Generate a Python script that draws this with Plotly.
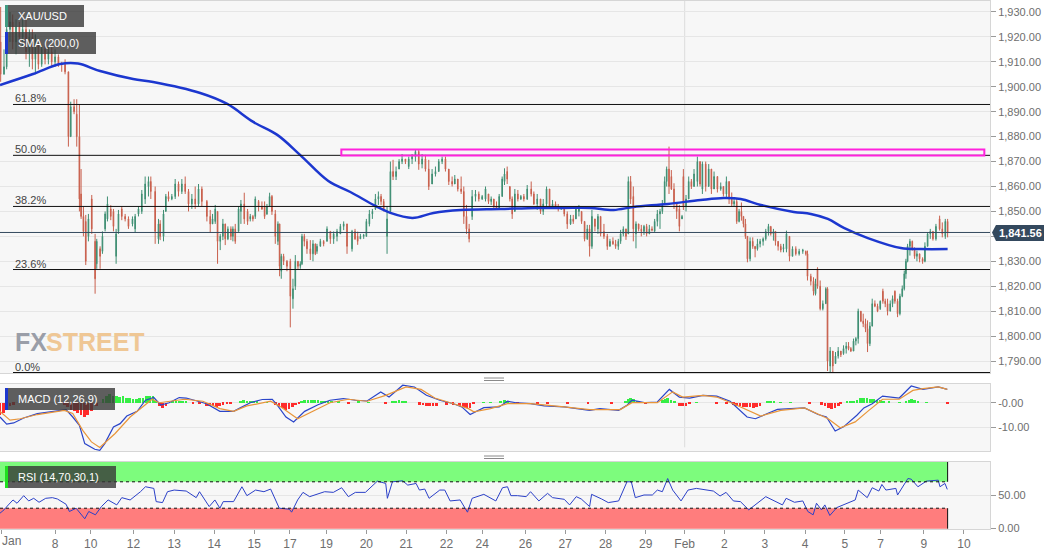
import plotly.graph_objects as go
from plotly.subplots import make_subplots

# session clock: 119 units per trading day, bars are not perfectly regular as read
bar_t = [2,12,20,30,38,48,58,68,78,88, 97,106,115,125,135,145,155,165,175,185,
    195,205,212,222,230,238,243,250,257,265, 275,285,290,300,307,315,322,332,340,348,
    355,365,375,385,397,405,415,425,435,445, 452,465,475,480,490,497,505,515,525,535,
    545,555,565,575,585,595,605,620,630,637, 645,652,660,668,675,683,692,698,705,715,
    722,732,742,750,758,765,775,785,793,800, 808,815,825,833,838,843,850,860,870,878,
    885,893,900,905,912,920,930,938,945,950, 960,970,980,990,1000,1010,1020,1030,1040,1055,
    1064,1072,1080,1090,1098,1107,1116,1125,1134,1142, 1150,1160,1170,1178,1187,1196,1205,1215,1225,1235,
    1245,1255,1265,1275,1285,1295,1305,1315,1325,1335, 1345,1355,1363,1372,1382,1390,1398,1406,1415,1425,
    1435,1445,1455,1464,1472,1480,1488,1496,1505,1512, 1520,1528,1535,1543,1552,1561,1570,1580,1592,1600,
    1610,1620,1628,1638,1647,1656,1665,1673,1682,1691, 1700,1710,1718,1726,1735,1743,1752,1760,1767,1774,
    1783,1792,1800,1810,1820,1828,1837,1845,1853,1860, 1868,1876,1883,1890,1898,1906,1914,1922,1930,1938,
    1946,1954,1962,1970,1978,1985,1992,1998,2005,2012, 2020,2028,2036,2044,2048,2056,2064,2072,2080,2090,
    2098,2105,2115,2124,2132,2140,2150,2160,2168,2177, 2185,2193,2200,2208,2215,2222,2228,2234,2240,2248,
    2256,2263,2270,2278,2287,2295,2303,2310,2318,2324, 2332,2340,2348,2357,2366,2375,2385,2395,2406,2415,
    2420,2430,2438,2444,2450,2458,2466,2475,2480,2488, 2496,2504,2512,2520,2528,2536,2543,2550,2558,2565,
    2572,2580,2587,2594,2600,2607,2614,2622,2630,2638, 2646,2653,2660,2668,2675,2682,2690,2697,2704,2710,
    2715,2720,2727,2734,2741,2748,2756,2765,2772,2780, 2788,2796,2805,2816,2824,2833,2840]

opens = [1918,1905,1908,1923,1926,1918,1924,1920,1923,1914, 1920,1911,1917,1909,1915,1911,1914,1910,1912,1909,
    1909,1906,1880,1892,1889,1880,1857,1848,1846,1840, 1855,1838,1829,1835,1834,1843,1847,1851,1850,1832,
    1842,1851,1848,1847,1845,1843,1849,1850,1855,1860, 1862,1858,1839,1845,1840,1850,1856,1855,1856,1861,
    1858,1861,1858,1853,1855,1853,1859,1854,1848,1845, 1846,1850,1838,1840,1845,1839,1843,1840,1843,1842,
    1850,1853,1850,1847,1848,1848,1854,1852,1852,1849, 1852,1856,1849,1838,1845,1826,1832,1830,1830,1815,
    1820,1830,1828,1829,1840,1838,1835,1833,1837,1834, 1836,1838,1838,1842,1839,1840,1841,1844,1845,1835,
    1842,1840,1839,1840,1840,1845,1849,1851,1855,1856, 1854,1840,1850,1866,1864,1867,1870,1871,1868,1871,
    1872,1874,1869,1871,1867,1861,1865,1866,1870,1871, 1867,1862,1861,1863,1859,1858,1848,1843,1848,1856,
    1857,1855,1855,1857,1854,1855,1852,1851,1856,1862, 1866,1860,1855,1850,1857,1855,1856,1855,1859,1857,
    1853,1855,1850,1853,1859,1852,1853,1852,1851,1851, 1849,1845,1847,1847,1850,1850,1846,1839,1843,1836,
    1847,1843,1848,1842,1840,1836,1838,1837,1836,1838, 1841,1843,1841,1862,1856,1841,1845,1843,1842,1844,
    1841,1843,1842,1846,1849,1850,1853,1862,1867,1864, 1859,1853,1851,1847,1864,1852,1855,1862,1860,1862,
    1870,1859,1869,1860,1867,1859,1864,1859,1860,1857, 1862,1855,1853,1854,1846,1850,1848,1845,1840,1831,
    1838,1836,1835,1837,1838,1839,1842,1844,1841,1842, 1838,1836,1835,1835,1840,1832,1835,1833,1834,1834,
    1833,1824,1822,1817,1827,1820,1811,1813,1819,1788, 1794,1789,1792,1794,1793,1795,1796,1795,1794,1798,
    1799,1810,1806,1805,1803,1797,1804,1813,1812,1811, 1818,1814,1813,1810,1813,1818,1814,1809,1816,1819,
    1825,1830,1836,1838,1835,1832,1833,1831,1830,1836, 1841,1842,1839,1847,1843,1840,1846]

highs = [1932,1915,1925,1930,1929,1927,1926,1927,1927,1923, 1923,1921,1919,1917,1917,1916,1916,1915,1913,1910,
    1911,1906,1894,1895,1895,1893,1867,1852,1848.6,1849, 1856.6,1841,1839,1836,1842,1850,1856,1852.5,1851,1843,
    1850.6,1852,1849,1848,1848,1849,1852,1858.6,1864,1864, 1864,1860,1847,1846.5,1850.6,1857,1858,1857,1863,1862,
    1863,1864,1859,1857,1860,1861,1860,1854.6,1850.6,1849, 1852.6,1850,1841,1847,1845,1844,1844,1844,1845,1852,
    1854.6,1857.5,1851,1849,1848.6,1856,1854.6,1854,1854,1853, 1857.5,1856.6,1850.6,1846,1845,1833,1833,1830.5,1831,1823,
    1832.5,1830,1830,1841,1841,1839,1838.5,1838.5,1837,1837, 1839,1838.5,1844,1842,1842,1843,1845,1846,1845,1842.6,
    1843,1841.9,1841,1841,1847,1850.6,1851,1857,1858,1857, 1855,1852,1870,1870.7,1868,1871,1873,1871,1872,1873,
    1875,1874.7,1873,1872.7,1870.7,1867,1868,1871,1872,1872, 1867,1864,1864.6,1863,1864,1860,1852.6,1845,1858.6,1858.6,
    1858,1856.6,1860,1857,1856,1855,1854,1857,1864,1867.3, 1868,1860,1856,1859,1858.6,1856.6,1857,1860.6,1862,1858,
    1857,1855,1855,1860,1859,1854.6,1854,1853,1852,1851.7, 1850,1848.6,1848.6,1852,1852.6,1850,1846,1844.6,1844.6,1850.6,
    1847,1849,1848,1845,1841,1839,1839.6,1838.6,1839,1842.6, 1844,1843,1864,1864.2,1860,1846,1845,1844.6,1844.6,1845,
    1844.6,1844,1847,1850.6,1851,1854.6,1864,1868,1876,1866.6, 1861.3,1853,1852.6,1848.6,1867,1856.6,1864,1863,1867,1872,
    1870,1870,1870,1869,1867,1866,1864,1861.6,1860,1864, 1862,1857.6,1855.6,1855,1851,1853.6,1848,1847,1840,1839.6,
    1839.6,1836,1839,1839,1839.6,1843,1845,1844,1843,1842, 1838,1837,1837,1842.3,1840,1836,1836,1835,1835,1834.3,
    1834.3,1825,1823.6,1823,1827.6,1822.3,1814.3,1819.6,1819.6,1795.6, 1794,1793.6,1795.6,1794,1796.3,1797.6,1797.6,1795.6,1799,1799.6,
    1811,1810,1809,1807,1806.3,1805.6,1815,1814.3,1813,1814.3, 1819,1815,1815,1814.3,1816.3,1818.3,1815,1817,1820.3,1826.3,
    1831,1837,1839,1838.3,1835.6,1834.3,1833,1831.6,1837.6,1841.6, 1843,1842,1845,1848.3,1845.6,1847,1847]

lows = [1902,1905,1907,1918,1915,1913,1917,1916,1911,1908, 1907,1905,1907,1908,1909,1909,1908,1908,1908,1906,
    1905,1876,1880,1889,1876,1850,1847,1840,1828.5,1838, 1841,1817,1827,1827,1833,1842,1846,1846.5,1842,1829,
    1841,1846.5,1846,1843,1844,1841.6,1848,1849,1853,1856, 1855,1837,1837,1838.5,1838,1850,1854,1854.5,1855,1856,
    1857,1857,1850,1851,1851,1852,1852,1846,1841.6,1845, 1845,1829,1834.5,1838.5,1836.5,1838.5,1838.5,1838,1837,1842,
    1845,1845,1844.6,1846,1846,1847,1850,1850.6,1847,1848.6, 1852,1848.6,1837,1836.5,1824,1823,1828.5,1826,1803.5,1811,
    1818.5,1826.5,1827,1828.5,1836,1833,1830.5,1830,1832.5,1833, 1836,1836,1838,1837,1837,1838,1841,1842.5,1833,1833.9,
    1838.6,1836.6,1839,1839,1840,1844,1847,1850.6,1852.6,1852.6, 1850,1833,1849,1862.6,1862.6,1867,1869,1869,1867,1869,
    1870,1866.7,1867.3,1866,1858.6,1861,1864,1866,1869,1866, 1860.6,1860,1861,1858,1857,1845,1841,1837.6,1846.6,1854,
    1854,1854.6,1854,1853,1852.6,1851,1850.6,1850.6,1856,1860.6, 1861,1854,1847,1850,1854,1854.6,1854,1854.6,1856,1852.6,
    1850.6,1849,1848.6,1852,1851,1852,1851,1850,1850.6,1848, 1843,1844.6,1845,1847,1848,1845,1838,1838.6,1831.9,1835,
    1842,1841,1840,1839,1834.6,1836,1836.6,1835,1834.6,1837, 1840,1838.6,1841,1853,1838,1835.2,1842,1840,1840.6,1840,
    1841,1842,1842,1844,1843,1849,1853,1860,1857,1858.6, 1851,1847,1842,1847,1850.6,1850,1855,1859,1860,1860,
    1860,1857,1858,1860,1857,1859,1857.6,1858.3,1856,1855.6, 1853,1852,1852,1845,1845.6,1846.3,1843.6,1839,1829.6,1830,
    1835,1831.6,1834.3,1835.6,1836.3,1838.3,1840.3,1840.3,1838.3,1836.3, 1834.3,1833.6,1833.6,1833.6,1830,1832,1832.3,1832.3,1833,1832.3,
    1822.3,1820.3,1816.3,1816.3,1819,1810.3,1810.3,1813,1786,1785.6, 1785.6,1789,1791,1791.6,1792.5,1793,1794.3,1793.6,1794,1796.3,
    1797,1805.6,1803.6,1801.6,1793.6,1796,1804,1811.6,1809.6,1810.5, 1813,1811.6,1808.3,1810,1811.6,1813,1807.6,1808.3,1815.6,1818.3,
    1823,1829.6,1832.3,1834.3,1831,1830,1829.6,1829,1829.6,1836, 1839,1838.3,1838.3,1842.3,1839.6,1839,1839.6]

closes = [1905,1908,1923,1926,1918,1924,1920,1923,1914,1920, 1911,1917,1909,1915,1911,1914,1910,1912,1909,1909,
    1906,1880,1892,1890,1880,1855,1848,1842,1830,1847, 1843,1823,1838,1832,1840,1849,1853,1848,1844,1841,
    1849,1848,1847,1844,1847,1848,1851,1857,1861,1862, 1858,1842,1845,1840,1849,1856,1855,1856,1861,1858,
    1861,1858,1853,1855,1853,1859,1854,1848,1845,1847, 1851,1838,1840,1845,1839,1843,1840,1843,1838,1851,
    1853,1847,1846,1848,1847,1855,1852,1851,1848,1852, 1856,1850,1840,1845,1828,1832,1830,1828,1816,1819,
    1830,1828,1829,1840,1838,1835,1833,1837,1833,1836, 1838,1837,1843,1839,1841,1842,1844,1845,1836,1842,
    1839,1838,1840,1840.5,1846,1849,1850,1855,1856,1854, 1851,1847,1866,1864,1866,1870,1871,1870,1871,1872,
    1874,1869,1871,1867,1860,1865,1866,1870,1871,1867, 1862,1861,1863,1859,1858,1848,1843,1839,1856,1857,
    1855,1856,1859,1854,1855,1852,1851,1856,1863,1865, 1863,1855,1849,1857,1855,1856,1855,1859,1857,1853,
    1855,1850,1853,1859,1852,1853,1852,1851,1851.5,1849, 1845,1847,1846,1851,1851,1846,1839,1843,1836,1848,
    1844,1848,1841,1840,1836,1838,1837,1836,1838,1841, 1843,1840,1862,1855,1843,1845,1843,1842,1844,1841,
    1843,1842.5,1846,1849,1850,1853,1862,1867,1860,1859, 1853,1850,1844,1848,1852,1855,1862,1860,1865,1870,
    1861,1869,1860,1867,1859,1864,1859,1860,1857,1862, 1855,1853,1854,1846,1850,1848,1845,1840,1831,1838,
    1836,1835,1837,1838,1839,1842,1844,1841,1842,1838, 1836,1834.5,1835.5,1841,1832,1835,1833,1834,1834.5,1833,
    1824,1822,1818,1821,1820,1811,1813,1819,1790,1794, 1788,1792,1794,1792.5,1795,1796,1795,1794,1798,1799,
    1810,1806,1805,1803,1797,1804,1813,1812,1810,1814, 1814,1813,1810,1813,1815,1814,1809,1816,1819,1825,
    1830,1836,1838,1835,1832,1833,1831,1830,1836,1841, 1842,1839,1844,1843,1841,1846,1841.56]

sma_t = [0,99,180,234,300,399,459,600,681,759,831,900,984,1050,1125,1170,1236,1299,1380,1500,1611,1689,1770,1839,1899,2001,2100,2169,2220,2280,2379,2430,2481,2529,2601,2700,2760,2840]
sma_v = [1900.7,1905.1,1909.1,1909.3,1906.3,1903.1,1901.9,1897.5,1893.1,1885.9,1880.7,1872.6,1862.2,1857.8,1852.2,1849.4,1847.4,1849.4,1850.6,1851,1851.4,1851.4,1851.4,1850.6,1851.8,1853,1854.6,1855.4,1855,1852.6,1849.8,1849,1847,1843.4,1839.3,1835.3,1834.9,1834.9]

fib_labels = ["61.8%", "50.0%", "38.2%", "23.6%", "0.0%"]
fib_levels = [1892.9, 1872.5, 1852.0, 1826.7, 1785.4]
last_price = 1841.56
zone_low, zone_high = 1872.4, 1874.8
zone_t0, zone_t1 = 1023, 2950

macd_t = [0,20,41,71,112,162,198,218,238,254,269,284,299,314,340,360,380,411,436,461,
    482,507,537,558,588,619,659,700,720,750,786,816,831,857,880,913,953,989,1029,1065,
    1100,1141,1166,1207,1242,1278,1318,1359,1384,1409,1450,1496,1521,1551,1590,
    1631,1691,1767,1798,1854,1879,1894,1935,1970,2006,2036,2067,2107,2148,2188,2239,2264,2300,2330,2411,
    2452,2477,2503,2528,2568,2589,2614,2645,2695,2731,2766,2812,2839]
macd_v = [-5.7,-8.6,-8.1,-6.1,-4.3,-3.4,-2.7,-5.7,-9.1,-16.5,-17.8,-18.8,-19.2,-16.5,-9.7,-8.4,-5.3,-3.4,1.1,2.2,
    -0.9,0.1,2.2,2.0,0.9,-0.3,-3.4,-3.4,-2,0.1,1.4,1.5,-0.9,-5.7,-7.7,-3.4,-0.7,1.1,1.8,1.1,
    0.8,4.5,2.4,7.2,6.5,3.1,1.1,-0.3,-1.6,-4.7,-1.9,-1.6,0.7,0,-0.3,
    -1.2,-1.6,-3,-2.3,-3,-0.9,1.1,0.1,0.4,5.5,2.4,2,3.1,2.8,0.7,-5.7,-6.4,-4.3,-2.6,-2,
    -4.7,-5.7,-11.4,-9.7,-5,-2,-0.3,2.8,2,6.9,5.5,6.5,5.5]

signal_t = [0,30,61,112,193,218,248,274,299,345,390,426,456,477,517,553,608,659,700,740,
    811,842,892,933,989,1044,1100,1156,1217,1262,1303,1359,1404,1420,1470,1521,1590,
    1691,1767,1859,1894,1970,2016,2046,2107,2148,2198,2280,2340,2411,2482,2518,2563,2604,2645,2695,2736,2766,2812,2839]
signal_v = [-3.4,-7,-6.4,-4.7,-3,-4.3,-11.1,-15.8,-18.1,-12.4,-5.7,-1.6,1.5,0.1,0.7,1.5,0.7,-2.3,-3.4,-1.2,
    0.7,-1.6,-6.4,-3.6,0.1,1.5,0.7,3.1,6.5,5.5,2,-0.3,-2.3,-3.6,-2.3,-0.3,-0.3,
    -1.6,-2.7,-2.7,0.1,0.1,4.5,2.4,3.1,2.4,-0.3,-5.3,-3,-2,-6.4,-10.1,-7.7,-3,1.5,1.5,5.1,5.8,6.5,5.5]

hist_t = [0,10,20,30,41,193,203,213,223,233,243,253,263,274,289,
    309,319,329,339,349,359,369,379,389,399,409,419,429,439,449,459,466,
    477,487,497,517,527,537,547,557,578,598,618,628,638,648,658,668,680,690,
    720,730,740,750,760,770,800,826,836,846,856,866,876,886,896,
    903,913,923,933,943,953,963,973,983,993,1014,1044,1075,1105,1156,1176,1186,1196,1206,1216,
    1258,1268,1278,1288,1298,1308,1338,1358,1378,1389,1399,1409,1420,1450,1470,1500,1511,1521,1551,
    1610,1640,1701,1762,1833,1874,1884,1889,1899,1909,1935,1985,1995,2001,2011,2021,2036,2046,2056,2066,2087,
    2148,2178,2198,2208,2218,2228,2238,2248,2258,2268,2278,2300,2310,2320,2340,2370,2427,2462,2472,2482,2492,2502,2512,2518,
    2538,2548,2558,2568,2578,2588,2598,2608,2618,2628,2638,2648,2664,2695,2715,2725,2731,2741,2751,2776,2839]
hist_v = [-4.7,-4,-2,-1.4,-0.7,-0.7,-1.5,-2.7,-3.4,-4,-4.7,-5.7,-4.7,-3.4,-1.4,
    1.6,2.7,3.6,3,2.7,2.4,2.7,2.2,2,1.6,1.6,1.9,2.2,2.7,2.7,2.7,0.7,
    -1.4,-2,-1.4,0.4,0.6,0.8,0.8,0.4,-0.4,-0.3,-1.1,-1.3,-1.4,-1.6,-1.1,-0.7,-0.4,-0.1,
    0.8,1.1,1,0.8,0.6,0.4,0.3,-0.7,-1.5,-2,-2.7,-2.4,-1.6,-0.9,-0.4,
    0.8,1.1,1.1,1.1,1.1,1.1,1,0.9,0.8,0.7,0.7,-0.3,0.4,0.3,-0.4,0.7,0.9,1.1,0.9,0.4,
    -0.7,-0.9,-1.1,-1.4,-1.2,-1.1,-0.7,-0.8,-1.1,-1.5,-1.9,-2,-0.5,0.3,0.3,0.7,1.1,0.6,-0.1,
    -0.3,-0.3,-0.3,-0.4,-0.3,0.8,1.5,2,1.5,0.9,-0.1,1.1,1.6,1.9,1.1,0.5,-1.1,-1.1,-1.1,-0.3,0.3,
    -0.3,-0.5,-0.8,-1.1,-1.3,-1.5,-1.6,-1.8,-1.9,-1.6,-1.1,0.5,0.8,0.8,0.3,0.1,-0.5,-0.8,-1.2,-1.9,-2.4,-2.2,-1.4,-0.4,
    0.4,0.5,0.8,1.1,1.9,2.2,1.9,1.6,1.6,1.4,1.1,0.8,0.5,0.3,0.8,1.2,1.6,1.1,0.7,0.1,-0.3]

rsi_t = [0,12,25,39,51,71,86,101,117,137,157,172,198,208,228,254,266,286,304,324,
    350,365,390,421,436,461,468,487,502,522,558,588,598,627,644,659,669,700,725,740,
    766,791,811,837,867,874,892,908,928,973,999,1024,1044,1065,1095,1131,1156,1161,1176,1207,
    1222,1247,1257,1273,1286,1318,1333,1349,1379,1401,1415,1450,1486,1506,1521,1531,1551,1577,
    1590,1615,1641,1656,1691,1707,1727,1742,1767,1773,1803,1823,1854,1879,1892,1904,1930,1955,1970,1985,
    2001,2016,2041,2062,2087,2138,2158,2176,2198,2219,2244,2295,2345,2356,2381,2406,2421,2437,2447,2462,
    2472,2487,2508,2563,2572,2599,2614,2634,2643,2655,2685,2690,2721,2731,2751,2776,2812,2817,2832,2839]
rsi_v = [22.5,27.5,35,42.5,37.5,49,41,45,39,45,46,44,36,25,30,14,25,20,32.5,42.5,
    35,46,42.5,55,62.5,60,40,38.5,55,57.5,56,46,55,32.5,42.5,30,40,40,62.5,49,
    57.5,55,59,30,28.5,24,42.5,54,47.5,55,54,61,47.5,54,54,71,67.5,45,70,71.5,
    65,67.5,57.5,59,45,57.5,57.5,41,42.5,24,45,51,41,61,62.5,49,49,47.5,
    55,41,52.5,46,43.5,35,47.5,44,32.5,51,44,38.5,41,70,70,46,50,50,57.5,55,
    75,57.5,41,57.5,60,56,48.5,54,41,40,27.5,47.5,35,45,39,41,25,20,37.5,27.5,
    35,19,31,42.5,57.5,46,61,56,66,57.5,60,50,75,74,62.5,71,72.5,62.5,67.5,58.5]

tick_t = [165,272,400,522,642,762,869,978,1098,1217,1338,1445,1575,1694,1815,1935,2052,2171,2292,2413,2532,2639,2769,2889]
tick_text = ["8","10","12","13","14","15","17","19","20","21","22","24","26","27","28","29","Feb","2","3","4","5","7","9","10"]
price_ticks = [1790,1800,1810,1820,1830,1840,1850,1860,1870,1880,1890,1900,1910,1920,1930]
# the 1,840 label sits under the last price tag
price_tick_text = ["1,790.00","1,800.00","1,810.00","1,820.00","1,830.00","","1,850.00","1,860.00","1,870.00","1,880.00","1,890.00","1,900.00","1,910.00","1,920.00","1,930.00"]
macd_ticks = [0, -10]
macd_tick_text = ["-0.00", "-10.00"]
rsi_ticks = [0, 50]
rsi_tick_text = ["0.00", "50.00"]

W, H = 1060, 555
FONT = "Liberation Sans, Arial, sans-serif"
GRID = "#e6e6e6"
EDGE = "#d6d6d6"
TEXT = "#6e6e6e"

def px(x):
    return x / W

def py(y):
    return 1 - y / H

fig = make_subplots(rows=3, cols=1, shared_xaxes=True)

fig.add_trace(go.Candlestick(
    x=bar_t, open=opens, high=highs, low=lows, close=closes,
    increasing=dict(line=dict(color="#3f8f73", width=1), fillcolor="#3f8f73"),
    decreasing=dict(line=dict(color="#c9604d", width=1), fillcolor="#c9604d"),
    showlegend=False), row=1, col=1)
fig.add_trace(go.Scatter(x=sma_t, y=sma_v, mode="lines", line=dict(color="#1c37cf", width=2.5, shape="spline"),
                         showlegend=False), row=1, col=1)

hist_colors = ["#35ee45" if v > 0 else "#ff2b2b" for v in hist_v]
fig.add_trace(go.Bar(x=hist_t, y=hist_v, marker=dict(color=hist_colors, line_width=0), width=8,
                     showlegend=False), row=2, col=1)
fig.add_trace(go.Scatter(x=macd_t, y=macd_v, mode="lines", line=dict(color="#2b45c9", width=1.2),
                         showlegend=False), row=2, col=1)
fig.add_trace(go.Scatter(x=signal_t, y=signal_v, mode="lines", line=dict(color="#e8953a", width=1.2),
                         showlegend=False), row=2, col=1)

last_t = bar_t[-1]
fig.add_shape(type="rect", x0=0, x1=last_t, y0=70, y1=100, fillcolor="#7dfc7d", line_width=0, layer="below", row=3, col=1)
fig.add_shape(type="rect", x0=0, x1=last_t, y0=-1, y1=30, fillcolor="#ff7d7d", line_width=0, layer="below", row=3, col=1)
for lvl in [70, 30]:
    fig.add_shape(type="line", x0=0, x1=last_t, y0=lvl, y1=lvl, line=dict(color="#111111", width=1, dash="dot"), row=3, col=1)
fig.add_shape(type="line", x0=last_t, x1=last_t, y0=100, y1=70, line=dict(color="#111111", width=1), row=3, col=1)
fig.add_shape(type="line", x0=last_t, x1=last_t, y0=30, y1=-1, line=dict(color="#111111", width=1), row=3, col=1)
fig.add_trace(go.Scatter(x=rsi_t, y=rsi_v, mode="lines", line=dict(color="#2b40c8", width=1),
                         showlegend=False), row=3, col=1)

# fib levels and the resistance zone
for lab, lvl in zip(fib_labels, fib_levels):
    fig.add_shape(type="line", x0=39, x1=2967, y0=lvl, y1=lvl, line=dict(color="#111111", width=1), row=1, col=1)
    fig.add_annotation(x=39, y=lvl, yshift=6, text=lab, showarrow=False, xanchor="left", yanchor="middle",
                       font=dict(family=FONT, size=11, color="#444444"), row=1, col=1)
fig.add_shape(type="line", x0=0, x1=2967, y0=last_price, y1=last_price, line=dict(color="#34495e", width=1), row=1, col=1)
fig.add_shape(type="rect", x0=zone_t0, x1=zone_t1, y0=zone_low, y1=zone_high,
              line=dict(color="#ff22dd", width=2), fillcolor="rgba(0,0,0,0)", row=1, col=1)

# Feb divider
fig.add_shape(type="line", x0=2052, x1=2052, y0=1785, y1=1935, line=dict(color="#dcdcdc", width=1), layer="below", row=1, col=1)
fig.add_shape(type="line", x0=2052, x1=2052, y0=-18, y1=8, line=dict(color="#dcdcdc", width=1), layer="below", row=2, col=1)

paper = dict(xref="paper", yref="paper")

# panel labels
labels = [("XAU/USD", 5, 84, 5, 27, "#3f9a80"), ("SMA (200,0)", 5, 96, 32, 54, "#1c37cf"),
          ("MACD (12,26,9)", 5, 115, 388, 410, "#1c37cf"), ("RSI (14,70,30,1)", 5, 116, 466, 488, "#1fe01f")]
for text, x0, x1, y0, y1, strip in labels:
    fig.add_shape(type="rect", x0=px(x0), x1=px(x1), y0=py(y1), y1=py(y0), fillcolor="rgba(55,55,55,0.8)", line_width=0, **paper)
    fig.add_shape(type="rect", x0=px(x0), x1=px(x0 + 3), y0=py(y1), y1=py(y0), fillcolor=strip, line_width=0, **paper)
    fig.add_annotation(x=px(16), y=py((y0 + y1) / 2), text=text, showarrow=False, xanchor="left", yanchor="middle",
                       font=dict(family=FONT, size=11, color="#ffffff"), **paper)

# panel resize handles
for y in [378, 380.5, 456, 458.5]:
    fig.add_shape(type="line", x0=px(484), x1=px(504), y0=py(y), y1=py(y), line=dict(color="#8a8a8a", width=1), **paper)

# last price tag
fig.add_shape(type="path", path="M {} {} L {} {} L {} {} L {} {} L {} {} Z".format(
    px(992), py(232.5), px(996), py(225), px(1044), py(225), px(1044), py(241), px(996), py(241)),
    fillcolor="#34495e", line_width=0, **paper)
fig.add_annotation(x=px(1020), y=py(233), text="<b>{:,.2f}</b>".format(last_price), showarrow=False,
                   xanchor="center", yanchor="middle",
                   font=dict(family=FONT, size=11, color="#ffffff"), **paper)

# watermark
fig.add_annotation(x=px(13), y=py(342), text="<b>FX</b>", showarrow=False, xanchor="left", yanchor="middle",
                   font=dict(family=FONT, size=25, color="#9a9ea8"), **paper)
fig.add_annotation(x=px(44), y=py(342), text="<b>STREET</b>", showarrow=False, xanchor="left", yanchor="middle",
                   font=dict(family=FONT, size=25, color="#efc795"), **paper)
fig.add_annotation(x=px(0), y=py(541), text="Jan", showarrow=False, xanchor="left", yanchor="middle",
                   font=dict(family=FONT, size=12, color=TEXT), **paper)

fig.update_layout(
    width=W, height=H, margin=dict(l=0, r=0, t=0, b=0), autosize=False,
    paper_bgcolor="#ffffff", plot_bgcolor="#f7f7f7", showlegend=False, bargap=0,
    xaxis_rangeslider_visible=False,
)
fig.update_xaxes(range=[0, 2967], domain=[0, 990 / W], showgrid=False, zeroline=False, showline=True, mirror=True,
                 linecolor=EDGE, ticks="", showticklabels=False, automargin=False)
fig.update_xaxes(ticks="outside", ticklen=4, tickcolor="#9a9a9a", showticklabels=True, tickmode="array",
                 tickvals=[3] + tick_t, ticktext=[""] + tick_text,
                 tickfont=dict(family=FONT, size=12, color=TEXT), row=3, col=1)
axis_style = dict(side="right", showgrid=True, gridcolor=GRID, zeroline=False, showline=True, mirror=True, linecolor=EDGE,
                  ticks="outside", ticklen=5, tickcolor="#9a9a9a", tickfont=dict(family=FONT, size=11, color=TEXT),
                  automargin=False)
fig.update_yaxes(domain=[py(373), py(1)], range=[1785.2, 1934.4], tickmode="array", tickvals=price_ticks,
                 ticktext=price_tick_text, row=1, col=1, **axis_style)
fig.update_yaxes(domain=[py(451), py(384)], range=[-19.5, 7.7], tickmode="array", tickvals=macd_ticks,
                 ticktext=macd_tick_text, row=2, col=1, **axis_style)
fig.update_yaxes(domain=[py(529), py(462)], range=[-1.5, 100], tickmode="array", tickvals=rsi_ticks,
                 ticktext=rsi_tick_text, row=3, col=1, **axis_style)

# the page's default body margin would push the whole chart 8px down and right
fig.write_html("out.html", config={"displayModeBar": False},
               post_script="document.body.style.margin = '0';")
